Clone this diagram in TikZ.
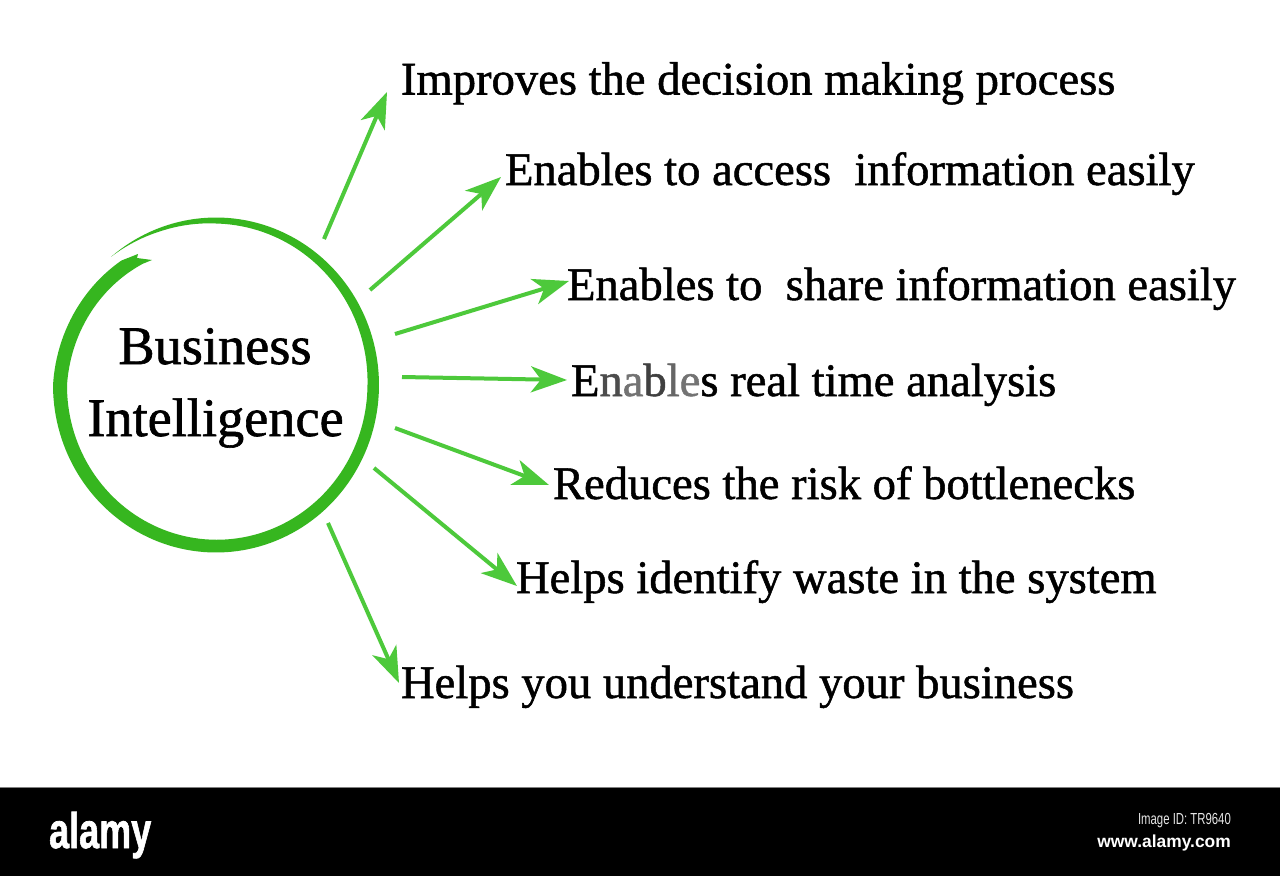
\documentclass[tikz,border=0pt]{standalone}
\usepackage{fontspec}
\setmainfont[FakeBold=1.1]{Liberation Serif}
\newfontfamily\barfont{Liberation Sans}
\newfontfamily\logofont[BoldFeatures={FakeBold=1.5}]{Liberation Sans}
\usetikzlibrary{arrows.meta}
\definecolor{ringgreen}{HTML}{36B61F}
\definecolor{arrowgreen}{HTML}{4DC93B}
\tikzset{
  x=1pt,y=-1pt,
  declare function={
    wd(\t)=(\t<250)?(3.5*(\t-230)/20):((\t<270)?(3.5+2.5*(\t-250)/20):((\t<360)?(6+5.5*(\t-270)/90):((\t<540)?(11.5+2.5*(\t-360)/180):14)));
    sp(\t)=(\t<540)?1:(1-0.0011*(\t-540));
  },
  item/.style={anchor=base west,inner sep=0pt,outer sep=0pt,font=\fontsize{46.6}{50}\selectfont,text=black},
  title/.style={anchor=base,inner sep=0pt,font=\fontsize{54.3}{58}\selectfont,text=black},
  link/.style={draw=arrowgreen,line width=4pt,-{Stealth[length=36pt,width=26pt,inset=10pt]}},
  bartext/.style={anchor=base east,inner sep=0pt}
}
\begin{document}
\begin{tikzpicture}
\useasboundingbox (0,0) rectangle (1280,876);
\fill[white] (0,0) rectangle (1280,876);
\fill[black] (0,787) rectangle (1280,876);
\draw[gray,line width=1pt] (0,787) -- (1280,787);
% hand-drawn ring
\fill[ringgreen]
  plot[domain=230:592,samples=180,variable=\t] ({216+163*sp(\t)*cos(\t)},{385+167.5*sp(\t)*sin(\t)})
  -- (138,254) -- (137,258) -- (152,260)
  -- plot[domain=598:230,samples=180,variable=\t] ({216+(163*sp(\t)-wd(\t))*cos(\t)},{385+(167.5*sp(\t)-wd(\t))*sin(\t)})
  -- cycle;
% texts
\node[title] (bus) at (215,364) {Business};
\node[title] (int) at (215.5,436) {Intelligence};
\node[item] (t1) at (401,94.5) {Improves the decision making process};
\node[item] (t2) at (505,185) {Enables to access\ \ information easily};
\node[item] (t3) at (567,300) {Enables to\ \ share information easily};
\node[item] (t4) at (571,396) {E{\color{black!70}n}{\color{black!55}a}{\color{black!75}b}{\color{black!60}l}{\color{black!55}e}s real time analysis};
\node[item] (t5) at (553,499) {Reduces the risk of bottlenecks};
\node[item] (t6) at (516,593) {Helps identify waste in the system};
\node[item] (t7) at (401,698) {Helps you understand your business};
% connector ends
\coordinate (s1) at (324,239); \coordinate (e1) at (387,92);
\coordinate (s2) at (370,290); \coordinate (e2) at (501,177);
\coordinate (s3) at (395,334); \coordinate (e3) at (569,281);
\coordinate (s4) at (402,377); \coordinate (e4) at (567,380);
\coordinate (s5) at (395,428); \coordinate (e5) at (549,485);
\coordinate (s6) at (374,468); \coordinate (e6) at (517,586);
\coordinate (s7) at (328,523); \coordinate (e7) at (399,683);
\foreach \i in {1,...,7}{\draw[link] (s\i) -- (e\i);}
% footer
\node[anchor=base west,inner sep=0pt,text=white,font=\logofont\bfseries\fontsize{50}{50}\selectfont,xscale=0.72] (logo) at (49,848) {alamy};
\node[bartext,text=white!90!black,font=\barfont\fontsize{16}{17}\selectfont,xscale=0.71] (imgid) at (1231,824) {Image ID: TR9640};
\node[bartext,text=white,font=\barfont\bfseries\fontsize{17.4}{19}\selectfont] (web) at (1231,847) {www.alamy.com};
\end{tikzpicture}
\end{document}
